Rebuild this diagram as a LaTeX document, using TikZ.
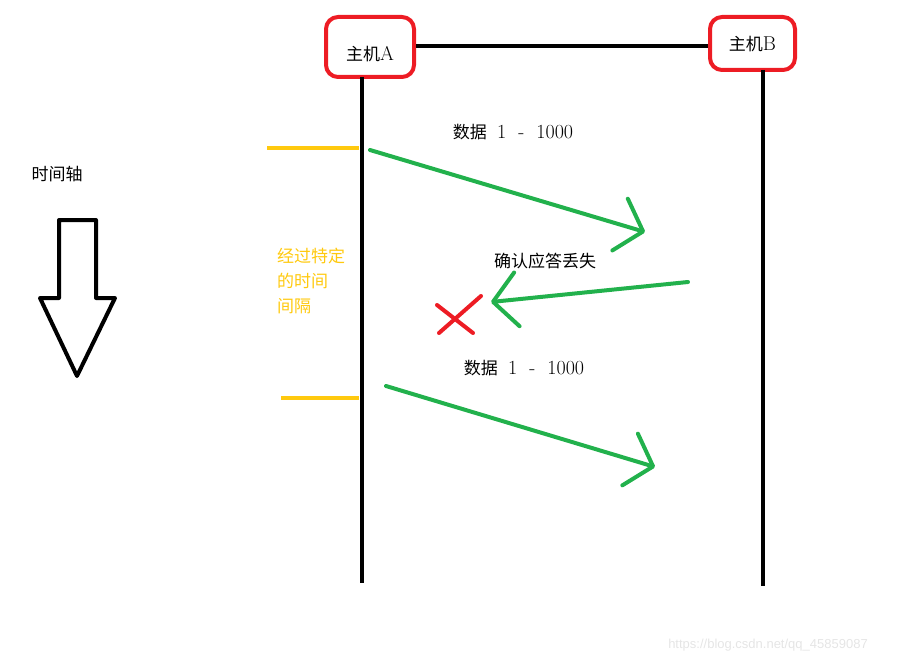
\documentclass[tikz,border=0pt]{standalone}
\usepackage{fontspec}
\newfontfamily\cjk{Noto Sans CJK SC}
\newfontfamily\wmfont{Liberation Sans}
\usetikzlibrary{arrows.meta}
\definecolor{hostred}{HTML}{ED1C24}
\definecolor{tickyellow}{HTML}{FFC90E}
\definecolor{arrowgreen}{HTML}{22B14C}
\newcommand\latin[1]{{\fontsize{20}{20}\selectfont #1}}
\tikzset{
    host/.style={draw=hostred, line width=4pt, rounded corners=12pt, inner sep=0pt},
    msg/.style={arrowgreen, line width=4pt, line cap=round,
                -{Straight Barb[length=24pt, width=54pt, line cap=round, line join=round]}},
    tick/.style={tickyellow, line width=4pt},
    lbl/.style={font=\fontsize{17}{20}\selectfont, inner sep=0pt}
}
\begin{document}
\begin{tikzpicture}[x=1pt, y=-1pt, line width=4pt]
    \useasboundingbox (0,0) rectangle (899,663);

    % Hosts:
    \node[host, minimum width=88pt, minimum height=60pt,
          label={[lbl, yshift=-7pt]center:{\cjk 主机}\latin{A}}] (A) at (370,47) {};
    \node[host, minimum width=85pt, minimum height=53pt,
          label={[lbl, yshift=-1pt]center:{\cjk 主机}\latin{B}}] (B) at (752.5,43.5) {};
    \draw (A.east |- 0,46) -- (B.west |- 0,46);

    % Lifelines:
    \coordinate (a0) at (362,77);  \coordinate (a1) at (362,583);
    \coordinate (b0) at (763,70);  \coordinate (b1) at (763,586);
    \draw (a0) -- (a1);
    \draw (b0) -- (b1);

    % Timeout marks:
    \coordinate (t1) at (267,148);
    \coordinate (t2) at (281,398);
    \draw[tick] (t1) -- (t1 -| 359,0);
    \draw[tick] (t2) -- (t2 -| 359,0);
    \node[lbl, anchor=west, align=left, text=tickyellow,
          font=\cjk\fontsize{17}{25}\selectfont] (gap) at (275,281) {经过特定\\的时间\\间隔};

    % Messages:
    \node[lbl] (d1) at (513,132) {{\cjk 数据}\ \ \latin{1 \ - \ 1000}};
    \node[lbl] (ack) at (545,261) {\cjk 确认应答丢失};
    \node[lbl] (d2) at (524,368) {{\cjk 数据}\ \ \latin{1 \ - \ 1000}};

    \coordinate (m1s) at (370,150);  \coordinate (m1e) at (645,232);
    \coordinate (m2s) at (688,282);  \coordinate (m2e) at (491,302);
    \coordinate (m3s) at (386,386);  \coordinate (m3e) at (655,467);
    \draw[msg] (m1s) -- (m1e);
    \draw[msg] (m2s) -- (m2e);
    \draw[msg] (m3s) -- (m3e);

    % Lost:
    \draw[hostred, line cap=round] (437,305) -- (473,333);
    \draw[hostred, line cap=round] (481,296) -- (439,333);

    % Time axis:
    \node[lbl] (axis) at (57,174) {\cjk 时间轴};
    \draw[line join=round] (59,220) -- (96,220) -- (96,298) -- (115,298)
        -- (77,376) -- (40,298) -- (59,298) -- cycle;

    \node[font=\wmfont\fontsize{13}{15}\selectfont, text=black!10, inner sep=0pt]
        (wm) at (768,645) {https://blog.csdn.net/qq\_45859087};
\end{tikzpicture}
\end{document}
